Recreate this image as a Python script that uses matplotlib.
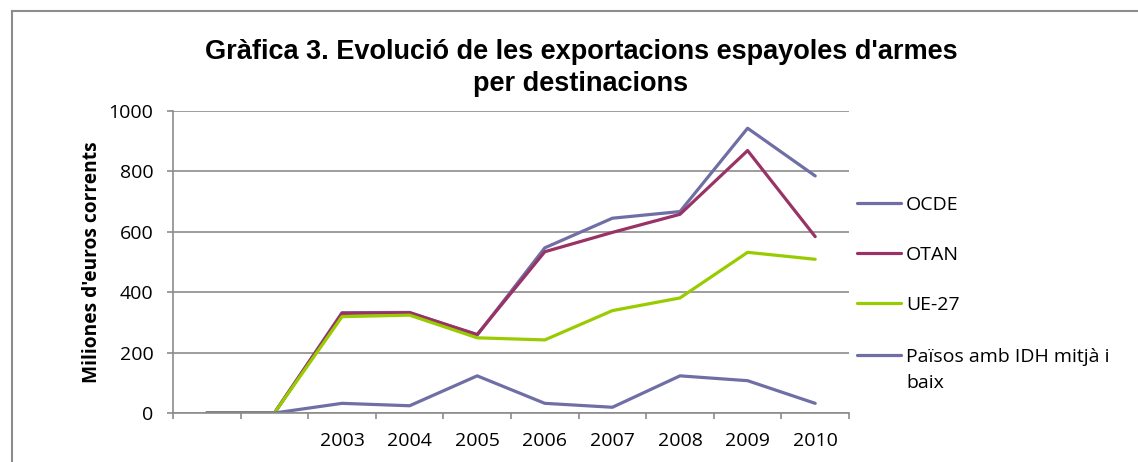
import matplotlib
matplotlib.use("Agg")
import matplotlib.pyplot as plt
from matplotlib.lines import Line2D

# data (millions of euros)
years = ["", "", "2003", "2004", "2005", "2006", "2007", "2008", "2009", "2010"]
ocde = [0, 0, 332, 333, 258, 547, 645, 667, 943, 785]
otan = [0, 0, 330, 332, 260, 534, 598, 658, 869, 584]
ue27 = [0, 0, 319, 324, 249, 242, 339, 381, 532, 509]
paisos = [0, 0, 32, 24, 123, 32, 19, 123, 107, 32]

seriesNames = ["OCDE", "OTAN", "UE-27", "Països amb IDH mitjà i\nbaix"]
seriesColors = ["#6f6fa6", "#993366", "#99cc00", "#6f6fa6"]

W, H = 1138, 462
fig = plt.figure(figsize=(W / 100, H / 100), dpi=100)
bodyFont = "Open Sans"
bodySize = 14
frameColor = "#8c8c8c"

# outer chart frame: only the top and left edges fall inside the picture
fig.add_artist(Line2D([12 / W, 12 / W], [0, 1 - 11 / H], transform=fig.transFigure,
                      color=frameColor, linewidth=1.5))
fig.add_artist(Line2D([12 / W, 1], [1 - 11 / H, 1 - 11 / H], transform=fig.transFigure,
                      color=frameColor, linewidth=1.5))

left, right, top, bottom = 173, 849, 111, 413
ax = fig.add_axes([left / W, (H - bottom) / H, (right - left) / W, (bottom - top) / H])

x = list(range(len(years)))
for values, name, color in zip([ocde, otan, ue27, paisos], seriesNames, seriesColors):
    ax.plot(x, values, color=color, linewidth=2.3, solid_joinstyle="round",
            solid_capstyle="round", label=name)

ax.set_xlim(-0.5, len(years) - 0.5)
ax.set_ylim(0, 1000)
ax.set_yticks(range(0, 1001, 200))
ax.set_xticks(x)
ax.set_xticklabels(years, fontsize=bodySize, family=bodyFont)
ax.set_xticks([i - 0.5 for i in range(len(years) + 1)], minor=True)
ax.tick_params(axis="x", which="major", length=0, pad=14)
ax.tick_params(axis="x", which="minor", length=4, color=frameColor, width=1.2, direction="out")
ax.tick_params(axis="y", length=4, color=frameColor, width=1.2, pad=10, labelsize=bodySize)
for lab in ax.get_yticklabels():
    lab.set_family(bodyFont)

ax.grid(axis="y", color=frameColor, linewidth=1.2)
ax.set_axisbelow(True)
for side in ["top", "right"]:
    ax.spines[side].set_visible(False)
for side in ["left", "bottom"]:
    ax.spines[side].set_color(frameColor)
    ax.spines[side].set_linewidth(1.2)

ax.set_ylabel("Miliones d'euros corrents", fontsize=13.8, fontweight="bold", family=bodyFont,
              labelpad=5)

fig.text(581 / W, 1 - 52 / H, "Gràfica 3. Evolució de les exportacions espayoles d'armes",
         ha="center", va="center", fontsize=19.5, fontweight="bold", family="Liberation Sans")
fig.text(581 / W, 1 - 84 / H, "per destinacions",
         ha="center", va="center", fontsize=19.5, fontweight="bold", family="Liberation Sans")

# legend drawn by hand so the wrapped label keeps its line on the first row
legendY = [203, 253, 303, 355]
for yPix, name, color in zip(legendY, seriesNames, seriesColors):
    fig.add_artist(Line2D([857 / W, 901 / W], [1 - yPix / H] * 2, transform=fig.transFigure,
                          color=color, linewidth=2.3, solid_capstyle="round"))
    for i, part in enumerate(name.split("\n")):
        fig.text(906 / W, 1 - (yPix + 7 + 26 * i) / H, part, ha="left", va="baseline",
                 fontsize=bodySize, family=bodyFont)

fig.savefig("out.png", dpi=100)
